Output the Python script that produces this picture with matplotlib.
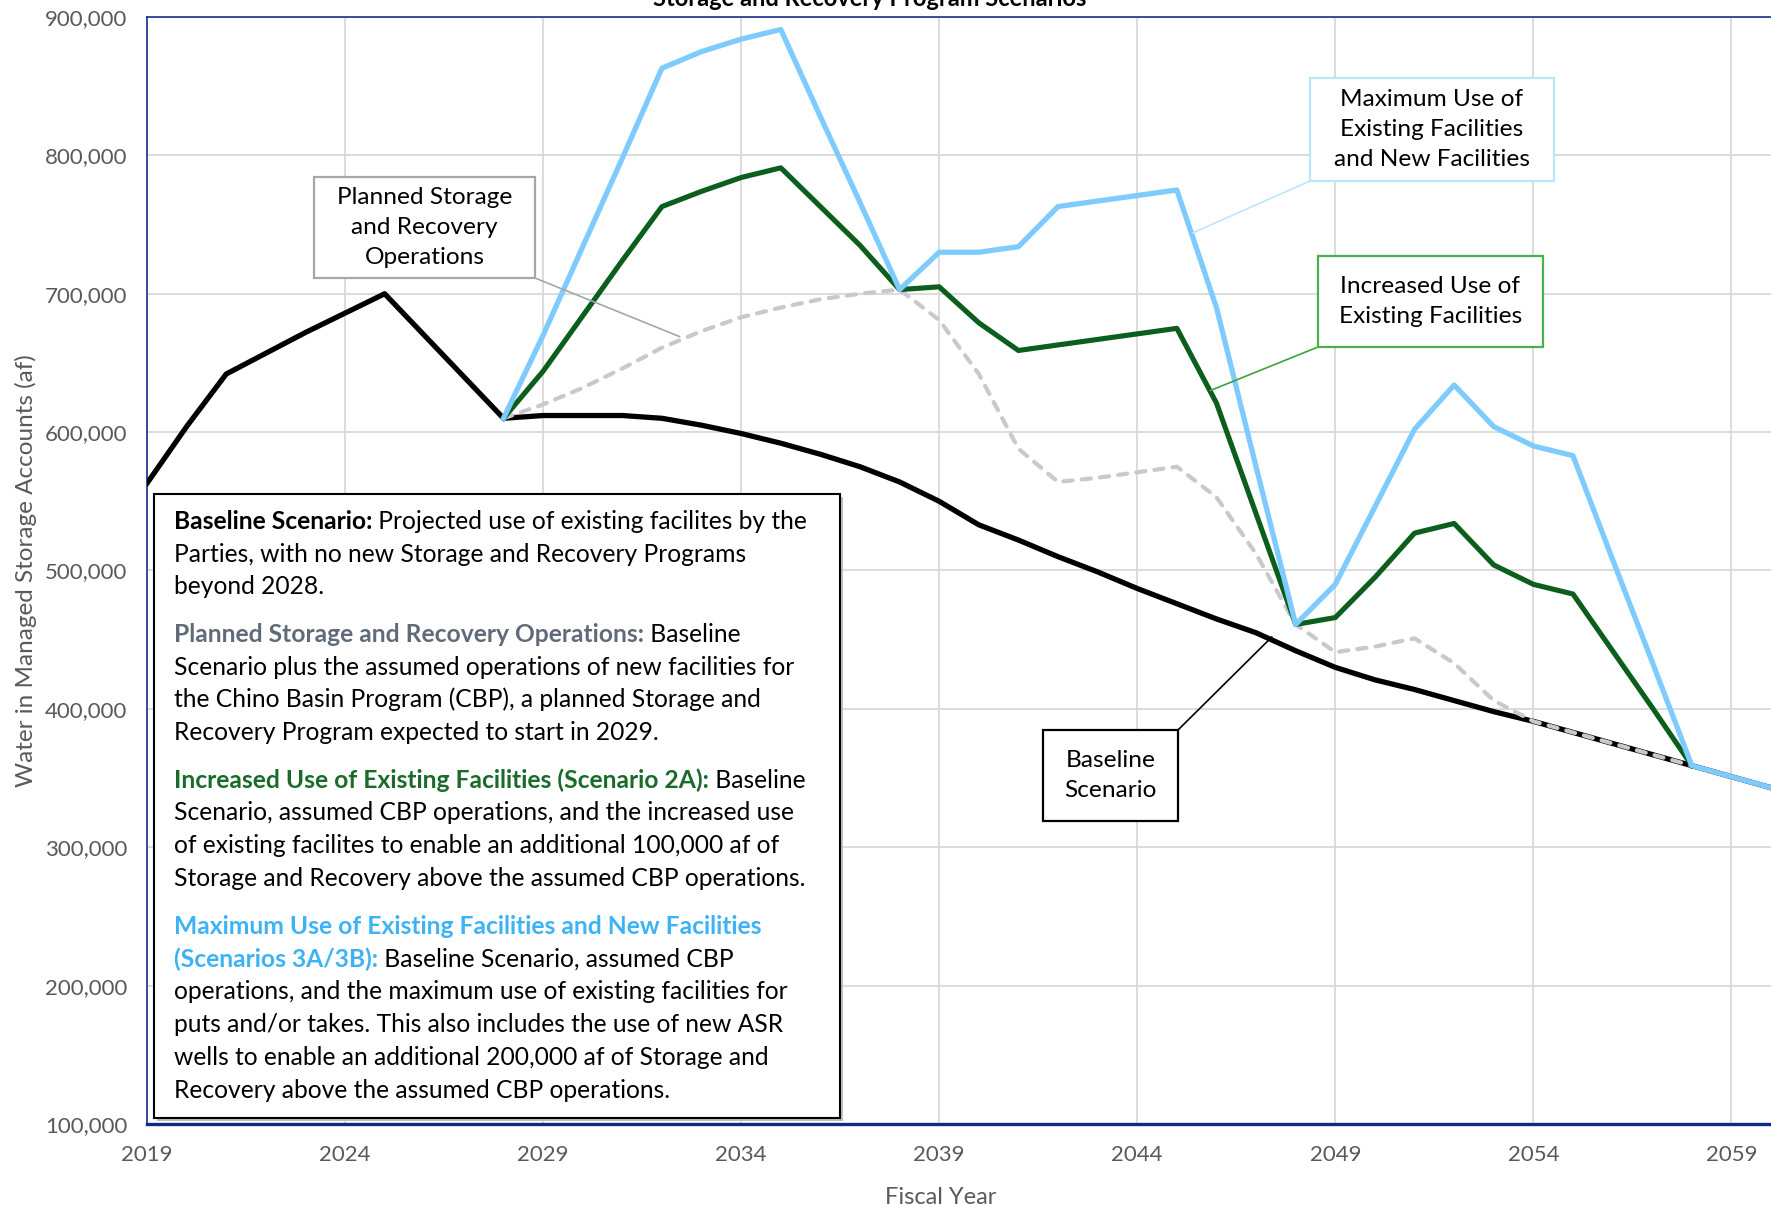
import numpy as np
import matplotlib
matplotlib.use("Agg")
import matplotlib.pyplot as plt
from matplotlib.patches import Rectangle, ConnectionPatch
from matplotlib.ticker import FuncFormatter

plt.rcParams['font.family'] = ['Lato', 'DejaVu Sans']

# ---------------- data ----------------
years = list(range(2019, 2061))
N = np.nan

baseline = [563000, 604000, 642000, 657000, 672000, 686000, 700000, 670000, 640000, 610000,
            612000, 612000, 612000, 610000, 605000, 599000, 592000, 584000, 575000, 564000,
            550000, 533000, 522000, 510000, 499000, 487000, 476000, 465000, 455000, 442000,
            430000, 421000, 414000, 406000, 398000, 391000, 383000, 375000, 367000, 359000,
            351000, 343000]

planned = [N, N, N, N, N, N, N, N, N, 610000,
           620000, 632000, 646000, 661000, 673000, 683000, 690000, 696000, 700000, 703000,
           681000, 642000, 588000, 564000, 567000, 571000, 575000, 553000, 512000, 461000,
           441000, 445000, 451000, 433000, 406000, 391000, 383000, 375000, 367000, 359000,
           N, N]

increased = [N, N, N, N, N, N, N, N, N, 610000,
             644000, 684000, 724000, 763000, 774000, 784000, 791000, 763000, 735000, 703000,
             705000, 679000, 659000, 663000, 667000, 671000, 675000, 621000, 541000, 461000,
             466000, 495000, 527000, 534000, 504000, 490000, 483000, 442000, 401000, 359000,
             N, N]

maximum = [N, N, N, N, N, N, N, N, N, 610000,
           670000, 734000, 798000, 863000, 875000, 884000, 891000, 828000, 766000, 703000,
           730000, 730000, 734000, 763000, 767000, 771000, 775000, 690000, 575000, 461000,
           490000, 546000, 602000, 634000, 604000, 590000, 583000, 508000, 434000, 359000,
           351000, 343000]

x_ticks = list(range(2019, 2060, 5))
y_ticks = list(range(100000, 900001, 100000))

title = "Storage and Recovery Program Scenarios"
x_label = "Fiscal Year"
y_label = "Water in Managed Storage Accounts (af)"

# ---------------- style ----------------
W, H = 1771, 1205
BLUE = '#7ECBFF'
GREEN = '#0B5E1B'
GRAY = '#C9C9C9'
NAVY = '#1B2E8C'
TICKC = '#595959'

fig = plt.figure(figsize=(W / 100, H / 100), dpi=100)


def fx(px):
    return px / W


def fy(py):
    return 1 - py / H


ax = fig.add_axes([fx(147), fy(1124), fx(1771 - 147), (1124 - 17) / H])
ax.set_xlim(2019, 2060)
ax.set_ylim(100000, 900000)
ax.set_xticks(x_ticks)
ax.set_yticks(y_ticks)
ax.yaxis.set_major_formatter(FuncFormatter(lambda v, p: f"{int(v):,}"))
ax.tick_params(length=0, labelsize=16, labelcolor=TICKC)
ax.tick_params(axis='x', pad=15)
ax.tick_params(axis='y', pad=14)
ax.grid(True, color='#D9D9D9', lw=1.3, zorder=0)
ax.set_axisbelow(True)
for s in ['left', 'top']:
    ax.spines[s].set_color(NAVY)
    ax.spines[s].set_linewidth(1.2)
ax.spines['bottom'].set_color('#0D2A85')
ax.spines['bottom'].set_linewidth(2.4)
ax.spines['right'].set_visible(False)

ax.set_xlabel(x_label, fontsize=17, color=TICKC)
ax.xaxis.set_label_coords(0.489, -0.057)
ax.set_ylabel(y_label, fontsize=17.5, color=TICKC, labelpad=6)

yr = np.array(years)
ax.plot(yr, baseline, color='black', lw=3.8, solid_joinstyle='round', zorder=3)
ax.plot(yr, planned, color=GRAY, lw=3.0, ls=(0, (2.2, 2.2)), dash_capstyle='round', zorder=4)
ax.plot(yr, increased, color=GREEN, lw=3.7, solid_joinstyle='round', zorder=5)
ax.plot(yr, maximum, color=BLUE, lw=3.8, solid_joinstyle='round', zorder=6)

fig.text(fx(870), fy(6), title, ha='center', va='baseline', fontsize=17,
         fontweight='bold', color='black')

# ---------------- callout boxes ----------------
def callout(box, text, edge, lead_from, lead_to, lead_color, fs=17.6):
    x0, y0, x1, y1 = box
    r = Rectangle((fx(x0), fy(y1)), fx(x1 - x0), (y1 - y0) / H, transform=fig.transFigure,
                  facecolor='white', edgecolor=edge, lw=1.6, zorder=10)
    fig.add_artist(r)
    fig.text(fx((x0 + x1) / 2), fy((y0 + y1) / 2), text, ha='center', va='center',
             fontsize=fs, color='black', linespacing=1.55, zorder=11)
    cp = ConnectionPatch(xyA=(fx(lead_from[0]), fy(lead_from[1])), coordsA=fig.transFigure,
                         xyB=lead_to, coordsB=ax.transData, color=lead_color, lw=1.2,
                         zorder=9)
    fig.add_artist(cp)


callout((314, 177, 535, 278), "Planned Storage\nand Recovery\nOperations", '#A6A6A6',
        (535, 278), (2032.45, 669000), '#A6A6A6')
callout((1310, 78, 1554, 181), "Maximum Use of\nExisting Facilities\nand New Facilities", '#BDE5FB',
        (1310, 181), (2045.4, 744000), '#BDE5FB')
callout((1318, 256, 1543, 347), "Increased Use of\nExisting Facilities", '#4CAF50',
        (1318, 347), (2045.84, 630000), '#3BA33B')
callout((1043, 730, 1178, 821), "Baseline\nScenario", 'black',
        (1178, 730), (2047.4, 452000), 'black')

# ---------------- description box ----------------
shadow = Rectangle((fx(157), fy(1121)), fx(840 - 154), (1118 - 494) / H, transform=fig.transFigure,
                   facecolor='#BFBFBF', edgecolor='none', zorder=11)
fig.add_artist(shadow)
box = Rectangle((fx(154), fy(1118)), fx(840 - 154), (1118 - 494) / H, transform=fig.transFigure,
                facecolor='white', edgecolor='black', lw=1.5, zorder=12)
fig.add_artist(box)

PGRAY = '#5F6B78'
PGREEN = '#1A6B2A'
PBLUE = '#3DB3F5'
paras = [
    [[("Baseline Scenario:", 'bold', 'black'), (" Projected use of existing facilites by the", 'normal', 'black')],
     [("Parties, with no new Storage and Recovery Programs", 'normal', 'black')],
     [("beyond 2028.", 'normal', 'black')]],
    [[("Planned Storage and Recovery Operations:", 'bold', PGRAY), (" Baseline", 'normal', 'black')],
     [("Scenario plus the assumed operations of new facilities for", 'normal', 'black')],
     [("the Chino Basin Program (CBP), a planned Storage and", 'normal', 'black')],
     [("Recovery Program expected to start in 2029.", 'normal', 'black')]],
    [[("Increased Use of Existing Facilities (Scenario 2A):", 'bold', PGREEN), (" Baseline", 'normal', 'black')],
     [("Scenario, assumed CBP operations, and the increased use", 'normal', 'black')],
     [("of existing facilites to enable an additional 100,000 af of", 'normal', 'black')],
     [("Storage and Recovery above the assumed CBP operations.", 'normal', 'black')]],
    [[("Maximum Use of Existing Facilities and New Facilities", 'bold', PBLUE)],
     [("(Scenarios 3A/3B):", 'bold', PBLUE), (" Baseline Scenario, assumed CBP", 'normal', 'black')],
     [("operations, and the maximum use of existing facilities for", 'normal', 'black')],
     [("puts and/or takes. This also includes the use of new ASR", 'normal', 'black')],
     [("wells to enable an additional 200,000 af of Storage and", 'normal', 'black')],
     [("Recovery above the assumed CBP operations.", 'normal', 'black')]],
]
para_top = [529, 642, 787.5, 934]
LS = 32.7
renderer = fig.canvas.get_renderer()
for p, top in zip(paras, para_top):
    for i, line in enumerate(p):
        ybase = top + i * LS
        xcur = 174
        for seg, wt, col in line:
            t = fig.text(fx(xcur), fy(ybase), seg, ha='left', va='baseline', fontsize=17.7,
                         fontweight=wt, color=col, zorder=13)
            xcur += t.get_window_extent(renderer).width

fig.savefig("out.png", dpi=100)
